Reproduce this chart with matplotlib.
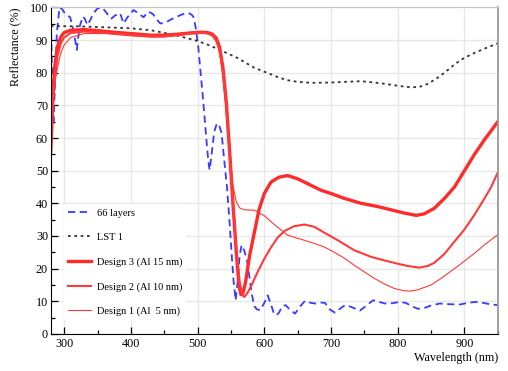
import matplotlib
matplotlib.use("Agg")
import matplotlib.pyplot as plt
from matplotlib.ticker import MultipleLocator

# Dados (comprimento de onda em nm, refletância em %)
wl_66 = [280, 282, 284, 286, 289, 293, 297, 301, 305, 309, 314, 319, 323, 328, 331,
         335, 340, 344, 349, 354, 359, 364, 368, 371, 376, 384, 389, 395, 404, 411,
         419, 426, 433, 438, 444, 449, 454, 460, 467, 474, 481, 486, 491, 494, 497,
         501, 505, 509, 513, 516, 518, 521, 525, 529, 533, 536, 540, 544, 548, 551,
         554, 557, 560, 563, 566, 570, 574, 578, 581, 585, 589, 594, 600, 605, 610,
         614, 618, 622, 627, 632, 638, 646, 654, 661, 668, 676, 684, 691, 698, 706,
         714, 721, 730, 743, 752, 763, 772, 781, 792, 803, 812, 822, 830, 838, 850,
         863, 878, 893, 905, 916, 928, 938, 950]
r_66 = [96, 80, 64, 75, 92, 100, 99.5, 98.2, 97.5, 97, 93, 87, 94, 97.2, 96.5,
        94.6, 96.5, 98.2, 99.5, 100, 99.5, 98.2, 97, 96.6, 97.5, 98.2, 95.1, 97, 99.2, 98.2,
        97, 98.7, 98, 96.5, 95.1, 95.2, 95.6, 96.3, 97, 97.6, 98.2, 98.3, 97.8, 97, 94,
        88, 79, 70, 60, 53, 50.2, 55, 62, 64.5, 63.5, 61.4, 53, 45, 34, 24.6,
        16, 10.3, 16, 24, 27.2, 25.5, 22.6, 17, 12.4, 8.5, 7.5, 7.3, 9.5, 11.8, 9,
        6.5, 5.7, 6.5, 8.5, 8.8, 7.5, 6.2, 8.5, 10.1, 9.6, 9.3, 9.6, 9.5, 7.5, 6.5,
        7.8, 8.8, 8.3, 7.1, 8.5, 10.3, 9.8, 9.3, 9.4, 9.8, 9.5, 8.4, 7.7, 7.8, 8.7,
        9.3, 9.1, 9.0, 9.5, 9.8, 9.5, 9.1, 8.8]

wl_lst = [280, 320, 350, 400, 430, 450, 465, 480, 500, 515, 530, 545, 560, 575, 585,
          600, 610, 622, 635, 650, 670, 700, 720, 745, 765, 780, 800, 820, 833, 845,
          858, 870, 883, 895, 910, 920, 935, 950]
r_lst = [94.3, 94.2, 94, 93.6, 93, 92.2, 91.6, 90.8, 89.7, 88.6, 87.3, 85.9, 84.5, 82.7, 81.5,
         80.3, 79.5, 78.5, 77.7, 77.2, 76.9, 77.0, 77.2, 77.4, 77.0, 76.6, 76.0, 75.5, 75.7, 76.6,
         78.2, 80, 82.2, 84, 85.6, 86.5, 87.8, 89]

wl_d3 = [280, 283, 286, 290, 295, 300, 310, 330, 350, 380, 400, 430, 450, 470, 490,
         505, 515, 522, 528, 533, 538, 543, 548, 553, 558, 562, 565, 568, 572, 578,
         585, 592, 600, 610, 622, 635, 650, 665, 685, 700, 720, 745, 770, 790, 810,
         828, 840, 855, 870, 885, 900, 915, 930, 950]
r_d3 = [56, 72, 82, 88, 91, 92.3, 93, 93.2, 92.9, 92.3, 92.0, 91.5, 91.5, 91.8, 92.2,
        92.4, 92.3, 91.8, 90.6, 87.8, 81.5, 71, 56, 40, 25, 15, 12, 12.5, 16, 24,
        31, 38, 43, 46.5, 48, 48.5, 47.5, 46, 44, 43, 41.5, 40, 39, 38, 37,
        36.3, 36.8, 38.5, 41.5, 45, 50, 55, 59.5, 65]

wl_d2 = [280, 283, 286, 290, 295, 300, 310, 330, 360, 400, 430, 450, 470, 490, 505,
         515, 522, 528, 533, 538, 543, 548, 553, 558, 563, 567, 570, 574, 580, 590,
         600, 610, 620, 630, 645, 660, 675, 690, 710, 735, 760, 780, 800, 815, 832,
         845, 855, 870, 885, 900, 915, 930, 940, 950]
r_d2 = [62, 70, 78, 85, 89, 90.8, 92.2, 92.6, 92.3, 91.6, 91.1, 91.1, 91.5, 92.0, 92.3,
        92.1, 91.5, 90.1, 87.2, 80.5, 70, 55, 40, 26, 16, 12, 11.3, 12.3, 14.5, 19,
        23, 26.5, 29.5, 31.5, 33, 33.5, 32.8, 31, 28.7, 25.6, 23.6, 22.5, 21.5, 20.8, 20.3,
        20.8, 21.8, 24.5, 28.3, 32, 36.5, 41.5, 45, 49.5]

wl_d1 = [280, 283, 286, 290, 295, 300, 310, 330, 360, 400, 430, 450, 470, 490, 505,
         515, 522, 528, 533, 538, 543, 548, 553, 558, 563, 570, 585, 600, 615, 635,
         655, 675, 690, 705, 720, 735, 750, 765, 780, 795, 810, 818, 830, 850, 865,
         885, 900, 915, 930, 950]
r_d1 = [70, 74, 77, 81.5, 86, 88.5, 90.8, 92, 92, 91.3, 90.9, 91, 91.4, 92, 92.2,
        91.9, 91.2, 89.5, 86, 79, 68, 56, 45.5, 40.5, 38.6, 38, 37.9, 36.2, 33.5, 30.2,
        29, 27.7, 26.6, 25, 23.2, 21, 19, 17, 15.3, 13.9, 13.2, 13.1, 13.5, 15, 17,
        20, 22.3, 24.7, 27.3, 30.4]

plt.rcParams["font.family"] = "Liberation Serif"

fig = plt.figure(figsize=(5.08, 3.71), dpi=100)
ax = fig.add_axes([0.1, 0.1, 0.88, 0.88])

ax.plot(wl_66, r_66, color="#3a3aff", lw=1.3, dashes=(4, 2.5), label="66 layers")
ax.plot(wl_lst, r_lst, color="#333333", lw=1.3, dashes=(1.5, 2), label="LST 1")
ax.plot(wl_d3, r_d3, color="#ff2a2a", lw=2.4, label="Design 3 (Al 15 nm)")
ax.plot(wl_d2, r_d2, color="#ff3a3a", lw=1.5, label="Design 2 (Al 10 nm)")
ax.plot(wl_d1, r_d1, color="#ff3a3a", lw=0.8, label="Design 1 (Al  5 nm)")

ax.set_xlim(280, 950)
ax.set_ylim(0, 100)
ax.xaxis.set_major_locator(MultipleLocator(100))
ax.xaxis.set_minor_locator(MultipleLocator(50))
ax.yaxis.set_major_locator(MultipleLocator(10))
ax.yaxis.set_minor_locator(MultipleLocator(5))
ax.tick_params(which="both", direction="in", labelsize=8.7, width=0.9)
ax.tick_params(which="major", length=5)
ax.tick_params(which="minor", length=3)
ax.tick_params(axis="x", pad=3)
ax.tick_params(axis="y", pad=2)

ax.set_axisbelow(True)
ax.grid(True, color="#e8e8e8", lw=1)

ax.spines["left"].set_color("black")
ax.spines["bottom"].set_color("black")
ax.spines["top"].set_color("#c4c4c4")
ax.spines["right"].set_color("#999999")
ax.spines["right"].set_linewidth(1.3)

fig.text(0.03, 0.98, "Reflectance (%)", rotation=90, ha="center", va="top", fontsize=8.7)
fig.text(0.98, 0.035, "Wavelength (nm)", ha="right", va="center", fontsize=8.7)

leg = ax.legend(loc="upper left", bbox_to_anchor=(0.03, 0.397), fontsize=7.5,
                frameon=True, fancybox=False, framealpha=1, edgecolor="white",
                handlelength=2.2, handletextpad=0.5, labelspacing=1.45,
                borderaxespad=0, borderpad=0.4)
leg.get_frame().set_linewidth(0)

fig.savefig("out.png", dpi=100)
